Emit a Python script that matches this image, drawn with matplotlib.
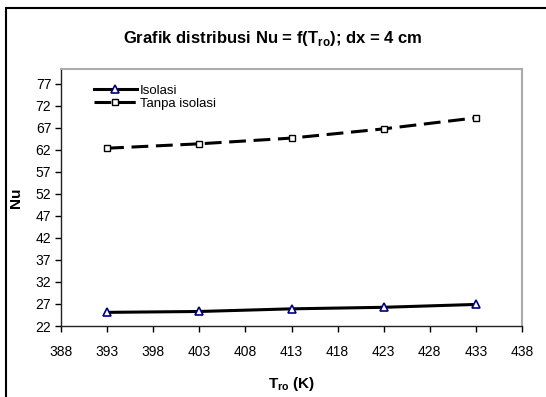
import matplotlib
matplotlib.use("Agg")
import matplotlib.pyplot as plt
from matplotlib.patches import Rectangle

plt.rcParams['font.family'] = ['Liberation Sans', 'DejaVu Sans']

x_temp = [393, 403, 413, 423, 433]
nu_isolasi = [25.1, 25.3, 25.9, 26.25, 26.9]
nu_tanpa = [62.4, 63.4, 64.7, 66.8, 69.3]
xticks = [388, 393, 398, 403, 408, 413, 418, 423, 428, 433, 438]
yticks = [22, 27, 32, 37, 42, 47, 52, 57, 62, 67, 72, 77]

W, H = 546, 397
fig = plt.figure(figsize=(W/100, H/100), dpi=100)
ax = fig.add_axes([61/W, 1-326/H, (522-61)/W, (326-69)/H])

ax.plot(x_temp, nu_isolasi, color='black', lw=2.2, marker='^', ms=6,
        mfc='white', mec='#000080', mew=1.2, label='Isolasi')
ax.plot(x_temp, nu_tanpa, color='black', lw=2.2, ls=(0, (5.5, 2.5)), marker='s', ms=5,
        mfc='white', mec='black', mew=1.0, label='Tanpa isolasi')

ax.set_xlim(388, 438)
ax.set_ylim(22, 80.4)
ax.set_xticks(xticks)
ax.set_yticks(yticks)
ax.tick_params(direction='out', length=4, width=1, labelsize=10, colors='black', pad=3)
ax.tick_params(axis='x', pad=10)
for s in ['left', 'bottom']:
    ax.spines[s].set_color('#222222')
    ax.spines[s].set_linewidth(1.0)
for s in ['top', 'right']:
    ax.spines[s].set_color('#aaaaaa')
    ax.spines[s].set_linewidth(1.5)

ax.set_xlabel('T$_{\\mathregular{ro}}$ (K)', fontsize=11, fontweight='bold', labelpad=11)
ax.set_ylabel('Nu', fontsize=11, fontweight='bold', labelpad=9)

leg = ax.legend(loc='upper left', bbox_to_anchor=(0.045, 0.985), frameon=False, fontsize=9.5,
                handlelength=3.3, handletextpad=0.2, labelspacing=0.05, borderpad=0.4)

fig.text(0.5, 1-38/H, 'Grafik distribusi Nu = f(T$_{\\mathregular{ro}}$); dx = 4 cm',
         ha='center', va='center', fontsize=12, fontweight='bold')

fig.patches.append(Rectangle((6/W, -0.1), 1.2, 1-8/H+0.1, transform=fig.transFigure,
                             fill=False, ec='black', lw=1.5))

fig.savefig('out.png', dpi=100)
